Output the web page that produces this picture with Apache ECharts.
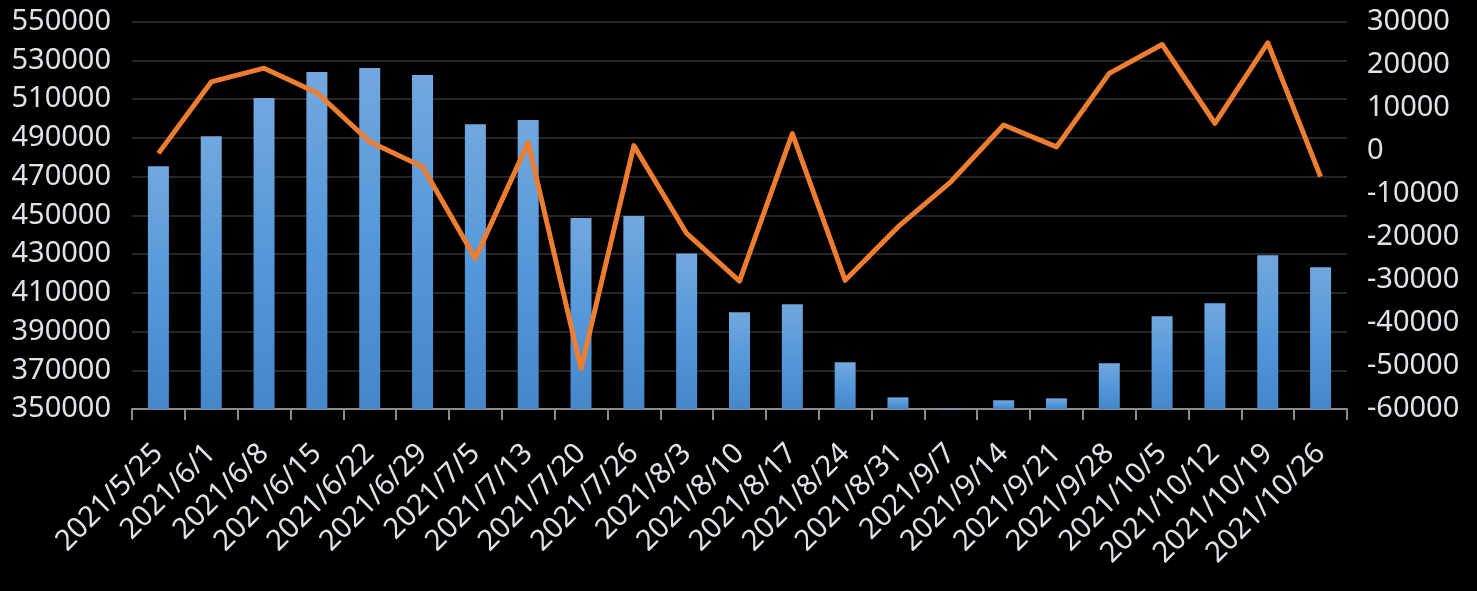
<!DOCTYPE html>
<html>
<head>
<meta charset="utf-8">
<script src="https://cdn.jsdelivr.net/npm/echarts@6/dist/echarts.min.js"></script>
<style>
html,body{margin:0;padding:0;background:#000;}
#chart{width:1477px;height:591px;}
</style>
</head>
<body>
<div id="chart"></div>
<script>
const categories = ['2021/5/25','2021/6/1','2021/6/8','2021/6/15','2021/6/22','2021/6/29','2021/7/5','2021/7/13','2021/7/20','2021/7/26','2021/8/3','2021/8/10','2021/8/17','2021/8/24','2021/8/31','2021/9/7','2021/9/14','2021/9/21','2021/9/28','2021/10/5','2021/10/12','2021/10/19','2021/10/26'];
const barValues = [475400,490900,510600,524000,526100,522500,497100,499200,448600,449600,430300,400000,404100,374100,356000,350300,354500,355500,373600,397900,404600,429400,423200];
const lineValues = [-600,16000,19200,13500,2100,-3700,-25000,1900,-50600,1200,-19200,-30300,4000,-30100,-17700,-7200,6000,900,18000,24700,6400,25100,-6000];
const leftTicks = {min:350000, max:550000, interval:20000};
const rightTicks = {min:-60000, max:30000, interval:10000};

const chart = echarts.init(document.getElementById('chart'), null, {renderer:'canvas'});
const font = 'Noto Sans';
const txt = '#dfe3e8';
chart.setOption({
  backgroundColor:'#000',
  animation:false,
  grid:{left:132, right:130, top:21.7, bottom:182, containLabel:false},
  xAxis:{
    type:'category', data:categories, boundaryGap:true,
    axisLine:{show:true, onZero:false, lineStyle:{color:'#8c8c8c', width:2}},
    axisTick:{show:true, length:11, alignWithLabel:false, lineStyle:{color:'#8c8c8c', width:2}},
    axisLabel:{interval:0, rotate:45, color:txt, fontFamily:font, fontSize:29, margin:40}
  },
  yAxis:[{
    type:'value', min:leftTicks.min, max:leftTicks.max, interval:leftTicks.interval,
    axisLine:{show:false}, axisTick:{show:false},
    splitLine:{show:true, lineStyle:{color:'#262626', width:2}},
    axisLabel:{color:txt, fontFamily:font, fontSize:29, margin:21, formatter:v=>String(v)}
  },{
    type:'value', min:rightTicks.min, max:rightTicks.max, interval:rightTicks.interval,
    axisLine:{show:false}, axisTick:{show:false}, splitLine:{show:false},
    axisLabel:{color:txt, fontFamily:font, fontSize:29, margin:20, formatter:v=>String(v)}
  }],
  series:[{
    type:'bar', data:barValues, yAxisIndex:0, barWidth:21,
    itemStyle:{color:new echarts.graphic.LinearGradient(0,0,0,1,[{offset:0,color:'#72a7de'},{offset:0.5,color:'#5598d9'},{offset:1,color:'#4587c8'}])}
  },{
    type:'line', data:lineValues, yAxisIndex:1, symbol:'none',
    lineStyle:{color:'#ed7d31', width:5, join:'round'}, z:5
  }]
});
</script>
</body>
</html>
